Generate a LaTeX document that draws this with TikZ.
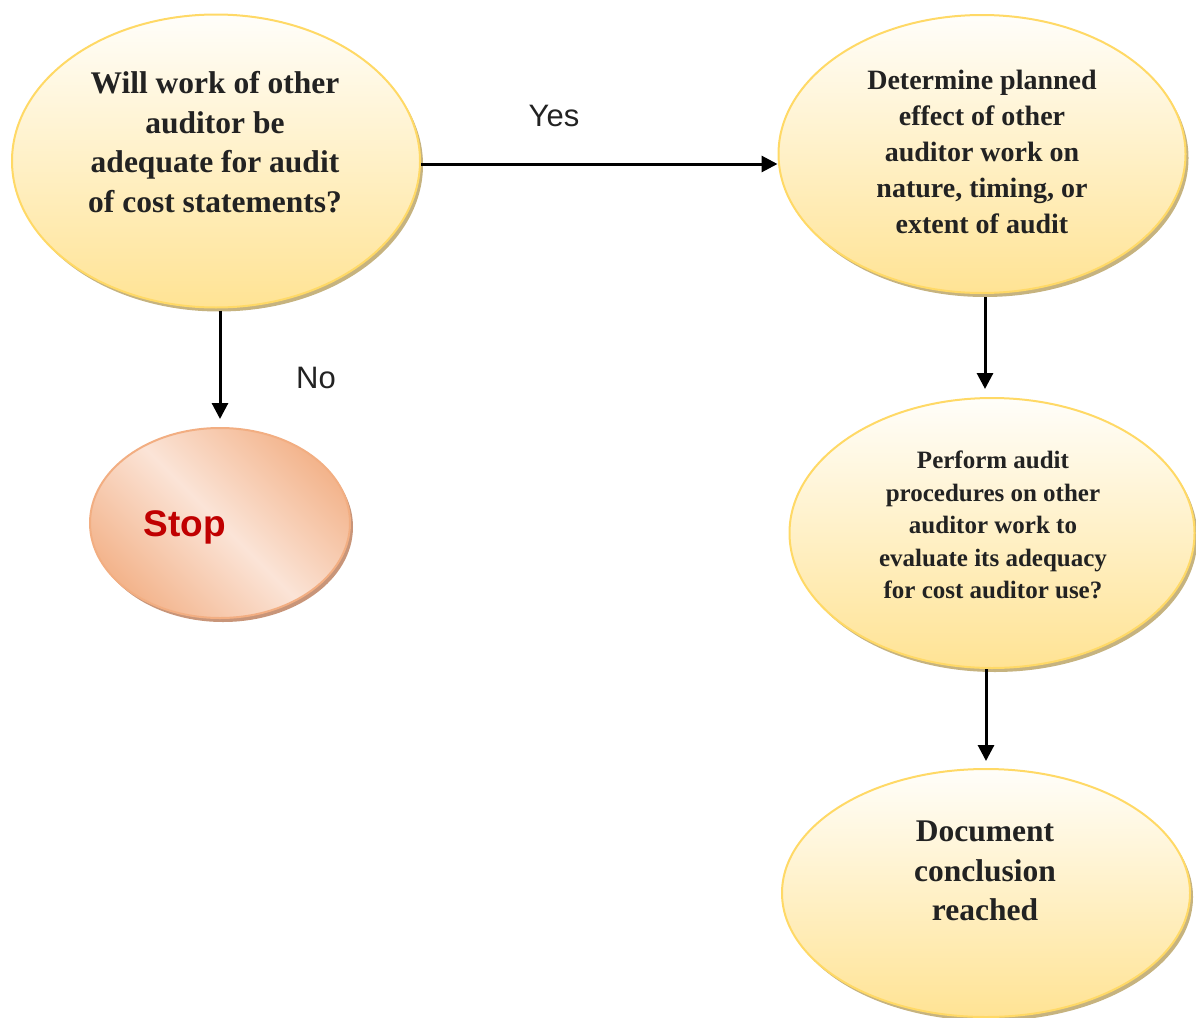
\documentclass[tikz,border=0pt]{standalone}
\usepackage{fontspec}
\setmainfont{Liberation Serif}
\newfontfamily\labelfont{Liberation Sans}
\usetikzlibrary{arrows.meta,shadows,shapes.geometric}

\definecolor{inkgray}{HTML}{222222}
\definecolor{goldedge}{HTML}{FFD966}
\definecolor{goldlow}{HTML}{FFE394}
\definecolor{goldtop}{HTML}{FFFEFA}
\definecolor{goldshadow}{HTML}{C6B37F}
\definecolor{peachedge}{HTML}{F2AE82}
\definecolor{peachdark}{HTML}{F3B48C}
\definecolor{peachlight}{HTML}{FBE4D7}
\definecolor{peachshadow}{HTML}{C89579}
\definecolor{stopred}{HTML}{C00000}

\tikzset{
  goldoval/.style={ellipse, draw=goldedge, line width=2pt, inner sep=0pt,
    top color=goldtop, bottom color=goldlow,
    drop shadow={shadow xshift=3pt, shadow yshift=-4pt, fill=goldshadow, opacity=1}},
  peachoval/.style={ellipse, draw=peachedge, line width=2pt, inner sep=0pt,
    shading=axis, top color=peachdark, bottom color=peachdark, middle color=peachlight,
    shading angle=-45,
    drop shadow={shadow xshift=3pt, shadow yshift=-4pt, fill=peachshadow, opacity=1}},
  ovaltext/.style={align=center, text=inkgray, inner sep=0pt, font=\bfseries},
  flow/.style={-{Triangle[length=16pt,width=16pt]}, line width=3pt, black},
  branch/.style={text=inkgray, inner sep=0pt, font=\labelfont\fontsize{31}{36}\selectfont}
}

\begin{document}
\begin{tikzpicture}[x=1pt, y=-1pt]
  \useasboundingbox (0,0) rectangle (1196,1017);

  % ovals
  \node[goldoval, minimum width=408pt, minimum height=293pt] (e1) at (216,161) {};
  \node[goldoval, minimum width=407pt, minimum height=278pt] (e2) at (982,154) {};
  \node[goldoval, minimum width=405pt, minimum height=270pt] (e3) at (992,533) {};
  \node[goldoval, minimum width=408pt, minimum height=248pt] (e4) at (986,893) {};
  \node[peachoval, minimum width=260pt, minimum height=190pt] (stop) at (220,523) {};

  % oval texts
  \node[ovaltext, font=\bfseries\fontsize{31.5}{39.5}\selectfont] (t1) at (215,142)
    {Will work of other\\auditor be\\adequate for audit\\of cost statements?};
  \node[ovaltext, font=\bfseries\fontsize{28}{36}\selectfont] (t2) at (982,152)
    {Determine planned\\effect of other\\auditor work on\\nature, timing, or\\extent of audit};
  \node[ovaltext, font=\bfseries\fontsize{25}{32.5}\selectfont] (t3) at (993,525)
    {Perform audit\\procedures on other\\auditor work to\\evaluate its adequacy\\for cost auditor use?};
  \node[ovaltext, font=\bfseries\fontsize{31.5}{39.5}\selectfont] (t4) at (985,871)
    {Document\\conclusion\\reached};
  \node[inner sep=0pt, text=stopred, font=\labelfont\bfseries\fontsize{37}{40}\selectfont] (t5) at (185,527) {Stop};

  % connectors
  \coordinate (colx) at (985,0);
  \draw[flow] ([yshift=-3pt]e1.east) -- ([yshift=-3pt]e1.east -| e2.west);
  \draw[flow, shorten <=2pt, shorten >=8pt] (e1.south -| stop.north) -- (stop.north);
  \draw[flow, shorten <=3pt, shorten >=8pt] (e2.south -| colx) -- (e3.north -| colx);
  \draw[flow, shorten >=7pt] ([xshift=1pt]e3.south -| colx) -- ([xshift=1pt]e4.north -| colx);

  % branch labels
  \node[branch] (yes) at (554,116) {Yes};
  \node[branch] (no) at (316,378) {No};
\end{tikzpicture}
\end{document}
